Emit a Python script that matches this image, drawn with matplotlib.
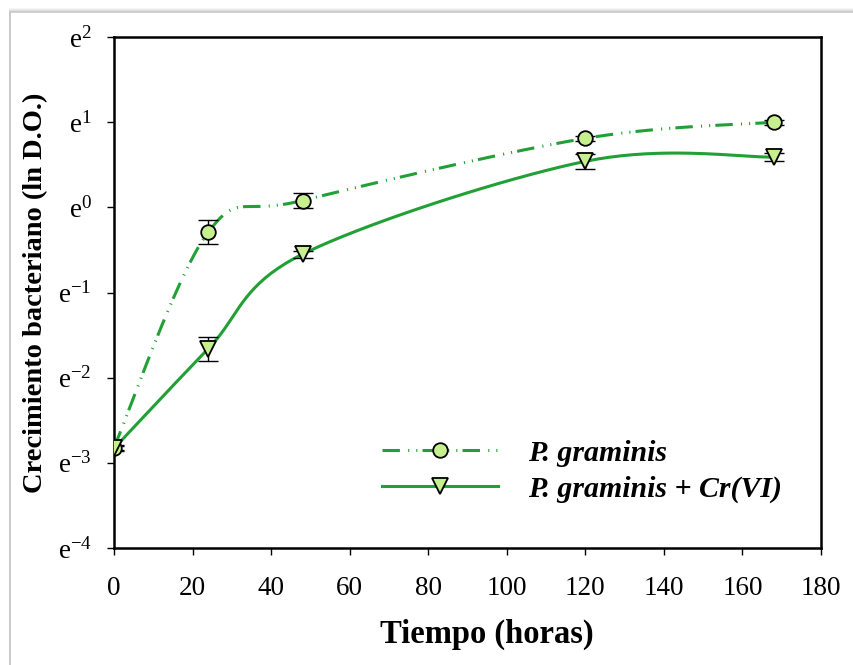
import numpy as np
import matplotlib
matplotlib.use("Agg")
import matplotlib.pyplot as plt
from matplotlib.lines import Line2D
from matplotlib.patches import Rectangle

# ---------------- data (ln D.O.) ----------------
tiempo = [0, 24, 48, 120, 168]
pg = [-2.82, -0.29, 0.08, 0.81, 1.00]
pg_err = [0.03, 0.14, 0.09, 0.03, 0.03]
pg_cr = [-2.83, -1.66, -0.55, 0.54, 0.59]
pg_cr_err = [0.03, 0.14, 0.04, 0.09, 0.05]
serie_labels = ['P. graminis', 'P. graminis + Cr(VI)']
yticks = [-4, -3, -2, -1, 0, 1, 2]
xticks = [0, 20, 40, 60, 80, 100, 120, 140, 160, 180]

plt.rcParams['font.family'] = ['Liberation Serif', 'DejaVu Serif']
plt.rcParams['mathtext.fontset'] = 'custom'
plt.rcParams['mathtext.rm'] = 'Liberation Serif'
plt.rcParams['mathtext.it'] = 'Liberation Serif:italic'
plt.rcParams['mathtext.bf'] = 'Liberation Serif:bold'

LINE = '#20a035'
FILL = '#c6f08e'


def smooth(xs, ys, n=40):
    """Excel-like Catmull-Rom Bezier smoothing of the data points."""
    P = np.column_stack([xs, ys]).astype(float)
    out = [P[0]]
    m = len(P)
    for i in range(m - 1):
        p0 = P[i - 1] if i > 0 else P[i]
        p1, p2 = P[i], P[i + 1]
        p3 = P[i + 2] if i + 2 < m else P[i + 1]
        c1 = p1 + (p2 - p0) / 6.0
        c2 = p2 - (p3 - p1) / 6.0
        t = np.linspace(0, 1, n)[1:, None]
        seg = ((1 - t) ** 3) * p1 + 3 * ((1 - t) ** 2) * t * c1 + 3 * (1 - t) * t ** 2 * c2 + t ** 3 * p2
        out.extend(seg)
    out = np.array(out)
    return out[:, 0], out[:, 1]


fig = plt.figure(figsize=(8.54, 6.65), dpi=100)
# chart border with slight shadow
for k, c in enumerate(['#f4f4f4', '#e8e8e8', '#dcdcdc']):
    fig.patches.append(Rectangle((10 / 854, -0.1), 1.2, (665 - 12 + 3 - k) / 665 + 0.1,
                                 transform=fig.transFigure, fill=False,
                                 edgecolor=c, lw=1.2, zorder=0))
fig.patches.append(Rectangle((10 / 854, -0.1), 1.2, (665 - 12) / 665 + 0.1,
                             transform=fig.transFigure, fill=False,
                             edgecolor='#c8c8c8', lw=1.2, zorder=0))

ax = fig.add_axes([114 / 854, (665 - 548) / 665, (821 - 114) / 854, (548 - 37) / 665])

dash_style = (0, (5.7, 2.7, 0.35, 2.3, 0.35, 1.7))

sx, sy = smooth(tiempo, pg)
ax.plot(sx, sy, color=LINE, lw=2.2, linestyle=dash_style, zorder=2)
sx2, sy2 = smooth(tiempo, pg_cr)
ax.plot(sx2, sy2, color=LINE, lw=2.2, linestyle='-', zorder=2)

ax.errorbar(tiempo, pg, yerr=pg_err, fmt='none', ecolor='black', elinewidth=1.0,
            capsize=7, capthick=1.0, zorder=3)
ax.errorbar(tiempo, pg_cr, yerr=pg_cr_err, fmt='none', ecolor='black', elinewidth=1.0,
            capsize=7, capthick=1.0, zorder=3)
ax.plot(tiempo, pg, linestyle='none', marker='o', ms=10.5, mfc=FILL, mec='black',
        mew=1.3, zorder=4)
ax.plot(tiempo, pg_cr, linestyle='none', marker='v', ms=12, mfc=FILL, mec='black',
        mew=1.3, zorder=5)

ax.set_xlim(0, 180)
ax.set_ylim(-4, 2)
ax.set_xticks(xticks)
ax.set_xticklabels([str(v) for v in xticks])
ax.set_yticks(yticks)
ax.set_yticklabels([r"$\mathrm{e}^{%d}$" % v for v in yticks])
ax.tick_params(axis='both', direction='out', length=5, width=1.0, labelsize=19.5)
ax.tick_params(axis='x', pad=15)
ax.tick_params(axis='y', pad=11)
for s in ax.spines.values():
    s.set_linewidth(1.8)
    s.set_color('black')

xl = ax.set_xlabel('Tiempo (horas)', fontsize=23.5, fontweight='bold')
xl.set_va('center')
ax.xaxis.set_label_coords(0.528, -0.170)
ax.set_ylabel('Crecimiento bacteriano (ln D.O.)', fontsize=20.5, fontweight='bold', labelpad=7)

h1 = Line2D([], [], color=LINE, lw=2.2, linestyle=dash_style, marker='o', ms=10.5,
            mfc=FILL, mec='black', mew=1.3)
h2 = Line2D([], [], color=LINE, lw=2.2, linestyle='-', marker='v', ms=12,
            mfc=FILL, mec='black', mew=1.3)
leg = ax.legend([h1, h2], serie_labels, loc='upper left',
                bbox_to_anchor=(355 / 854, (665 - 413) / 665), bbox_transform=fig.transFigure,
                frameon=False, handlelength=3.9, handletextpad=1.0, labelspacing=0.3,
                prop={'size': 21.5, 'weight': 'bold', 'style': 'italic'})

fig.savefig('out.png', dpi=100)
